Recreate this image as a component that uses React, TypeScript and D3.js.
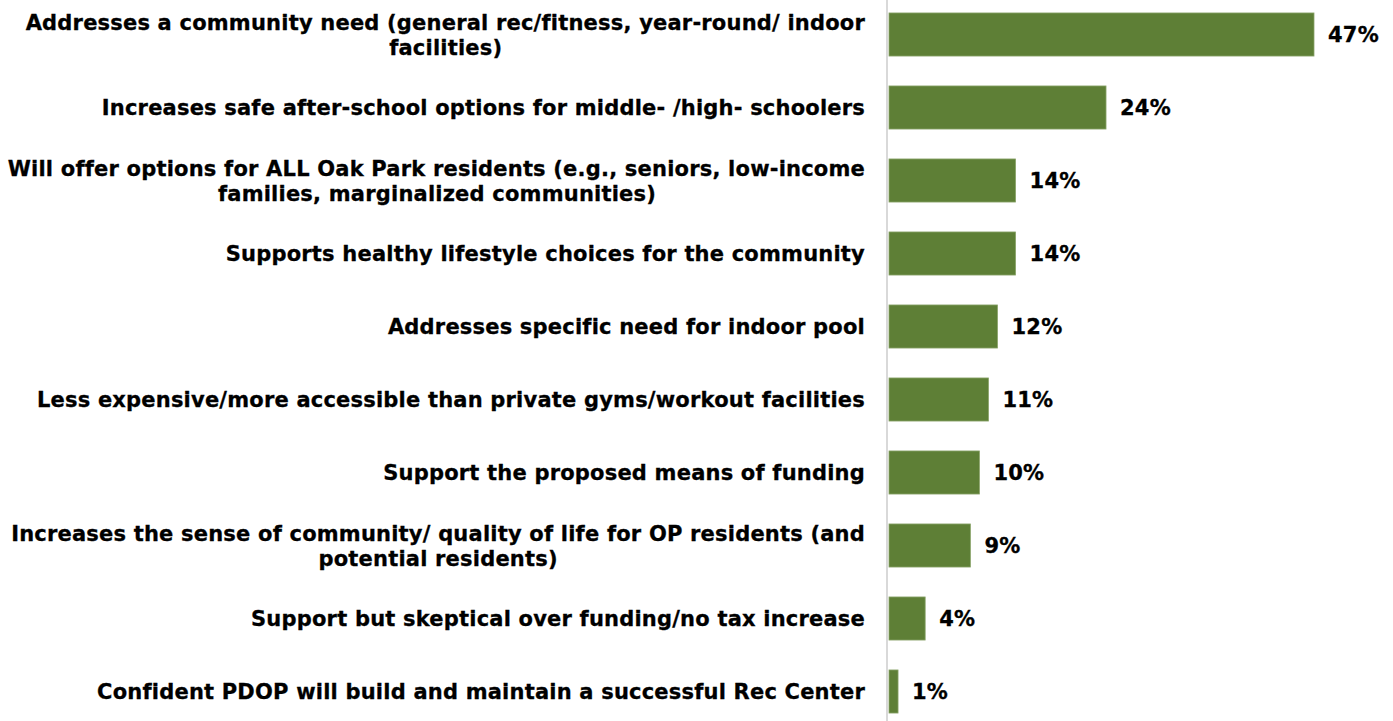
import React from "react";
import * as d3 from "d3";

const categories: string[][] = [
  ["Addresses a community need (general rec/fitness, year-round/ indoor", "facilities)"],
  ["Increases safe after-school options for middle- /high- schoolers"],
  ["Will offer options for ALL Oak Park residents (e.g., seniors, low-income", "families, marginalized communities)"],
  ["Supports healthy lifestyle choices for the community"],
  ["Addresses specific need for indoor pool"],
  ["Less expensive/more accessible than private gyms/workout facilities"],
  ["Support the proposed means of funding"],
  ["Increases the sense of community/ quality of life for OP residents (and", "potential residents)"],
  ["Support but skeptical over funding/no tax increase"],
  ["Confident PDOP will build and maintain a successful Rec Center"],
];
const values: number[] = [47, 24, 14, 14, 12, 11, 10, 9, 4, 1];

const W = 1393;
const H = 721;
const FONT = "'DejaVu Sans', Verdana, sans-serif";
const FS = 21;
const LS = 0.2;

function measure(s: string): number {
  const c = document.createElement("canvas");
  const ctx = c.getContext("2d")!;
  ctx.font = `bold ${FS}px 'DejaVu Sans'`;
  return ctx.measureText(s).width + LS * s.length;
}

export default function App() {
  const ids = categories.map((_, i) => String(i));
  const y = d3
    .scaleBand<string>()
    .domain(ids)
    .range([-2, 728])
    .paddingInner(0.41)
    .paddingOuter(0.205);
  const x = d3.scaleLinear().domain([0, 47]).range([889, 1314]);
  const right = 865;
  return (
    <svg
      width={W}
      height={H}
      style={{ position: "absolute", left: 0, top: 0, background: "#fff" }}
    >
      <line x1={887} x2={887} y1={0} y2={H} stroke="#d9d9d9" strokeWidth={2} />
      {values.map((v, i) => {
        const yy = y(String(i))!;
        const cy = yy + y.bandwidth() / 2;
        const lines = categories[i];
        const lh = 25;
        const w1 = measure(lines[0]);
        return (
          <g key={i}>
            <rect
              x={x(0)}
              y={yy}
              width={x(v) - x(0)}
              height={y.bandwidth()}
              fill="#5e7f36"
              stroke="#8aa46a"
              strokeWidth={0.8}
            />
            <text
              x={x(v) + 14}
              y={cy}
              dy="0.36em"
              fontFamily={FONT}
              fontWeight="bold"
              fontSize={FS}
              letterSpacing={LS}
              stroke="#000"
              strokeWidth={0.3}
              fill="#000"
            >
              {v}%
            </text>
            {lines.map((ln, j) => (
              <text
                key={j}
                x={j === 0 ? right : right - w1 / 2}
                y={cy + (j - (lines.length - 1) / 2) * lh}
                dy="0.36em"
                textAnchor={j === 0 ? "end" : "middle"}
                fontFamily={FONT}
                fontWeight="bold"
                fontSize={FS}
                letterSpacing={LS}
                stroke="#000"
                strokeWidth={0.3}
                fill="#000"
              >
                {ln}
              </text>
            ))}
          </g>
        );
      })}
    </svg>
  );
}
